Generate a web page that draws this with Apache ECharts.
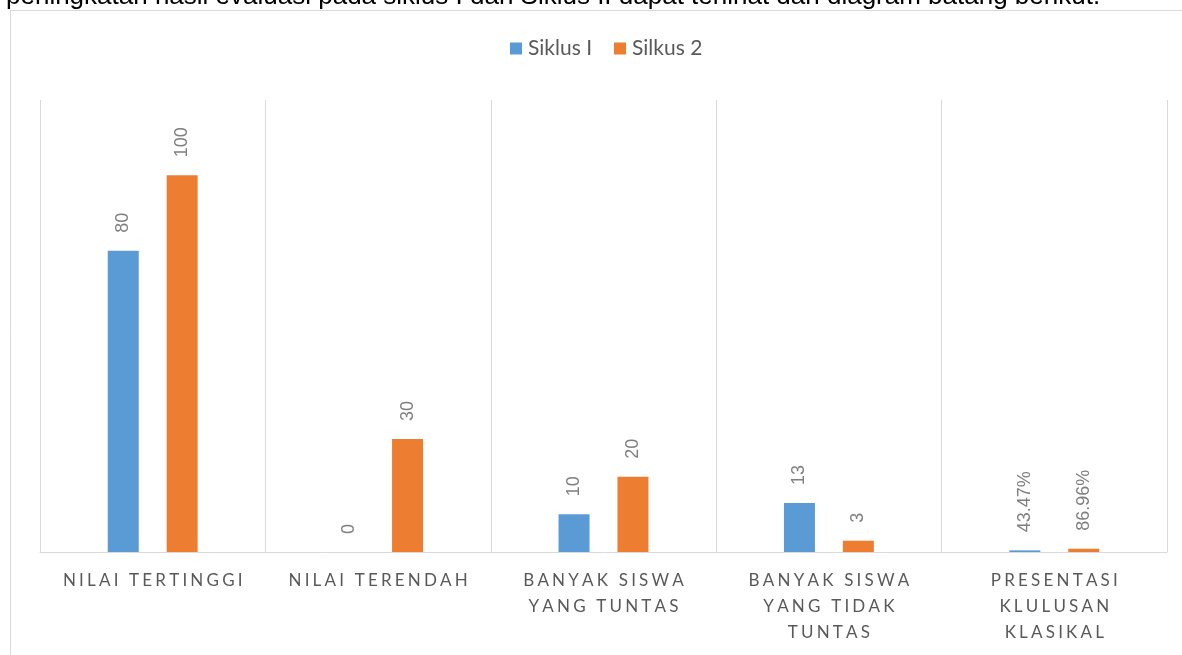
<!DOCTYPE html>
<html>
<head>
<meta charset="utf-8">
<title>Siklus I dan Siklus 2</title>
<script src="https://cdn.jsdelivr.net/npm/echarts@6/dist/echarts.min.js"></script>
<style>
  html, body { margin: 0; padding: 0; background: #fff; }
  #chart { width: 1182px; height: 655px; }
</style>
</head>
<body>
<div id="chart"></div>
<script>
// data kategori dan nilai
const categories = [
  'NILAI TERTINGGI',
  'NILAI TERENDAH',
  'BANYAK SISWA\nYANG TUNTAS',
  'BANYAK SISWA\nYANG TIDAK\nTUNTAS',
  'PRESENTASI\nKLULUSAN\nKLASIKAL'
];
const siklus1 = [80, 0, 10, 13, 0.4347];
const siklus2 = [100, 30, 20, 3, 0.8696];
const seriesNames = ['Siklus I', 'Silkus 2'];
const captionText = 'peningkatan hasil evaluasi pada siklus I dan Siklus II dapat terlihat dari diagram batang berikut.';

const chart = echarts.init(document.getElementById('chart'), null, { renderer: 'canvas' });

// label: persen untuk nilai < 1
const labelFormatter = (p) => {
  const v = p.value;
  if (v > 0 && v < 1) return (v * 100).toFixed(2) + '%';
  return String(v);
};

// meniru letter-spacing dengan thin space + hair space
const spaced = (s) => s.split('\n').map(line => line.split('').join('\u2009\u200A')).join('\n');

const barLabel = {
  show: true,
  position: 'top',
  rotate: 90,
  align: 'left',
  verticalAlign: 'middle',
  distance: 18,
  color: '#7f7f7f',
  fontFamily: 'Liberation Sans',
  fontSize: 18,
  formatter: labelFormatter
};

const option = {
  animation: false,
  graphic: [
    {
      type: 'text',
      x: 6,
      y: -3,
      silent: true,
      style: {
        text: captionText,
        fill: '#000',
        font: '26px "Liberation Sans"',
        verticalAlign: 'middle'
      }
    },
    {
      type: 'rect',
      shape: { x: 10.5, y: 10.5, width: 1300, height: 800 },
      style: { fill: 'none', stroke: '#d9d9d9', lineWidth: 1 },
      silent: true
    }
  ],
  legend: {
    left: 505,
    top: 33,
    itemWidth: 12,
    itemHeight: 12,
    itemGap: 22,
    icon: 'rect',
    textStyle: { color: '#595959', fontFamily: 'Lato', fontSize: 21, padding: [0, 0, 0, 1] },
    data: seriesNames
  },
  grid: { left: 40, right: 15, top: 100, bottom: 103, containLabel: false },
  xAxis: {
    type: 'category',
    data: categories,
    axisLine: { lineStyle: { color: '#d9d9d9', width: 1 } },
    axisTick: { show: false },
    splitLine: { show: true, lineStyle: { color: '#d9d9d9', width: 1 } },
    axisLabel: {
      interval: 0,
      margin: 16,
      color: '#595959',
      fontFamily: 'Lato',
      fontSize: 17,
      lineHeight: 26,
      formatter: (v) => spaced(v)
    }
  },
  yAxis: {
    type: 'value',
    min: 0,
    max: 120,
    show: false,
    splitLine: { show: false }
  },
  series: [
    {
      name: seriesNames[0],
      type: 'bar',
      data: siklus1,
      barWidth: 31,
      barGap: '90%',
      itemStyle: { color: '#5b9bd5' },
      label: barLabel
    },
    {
      name: seriesNames[1],
      type: 'bar',
      data: siklus2,
      barWidth: 31,
      barGap: '90%',
      itemStyle: { color: '#ed7d31' },
      label: barLabel
    }
  ]
};

chart.setOption(option);
</script>
</body>
</html>
